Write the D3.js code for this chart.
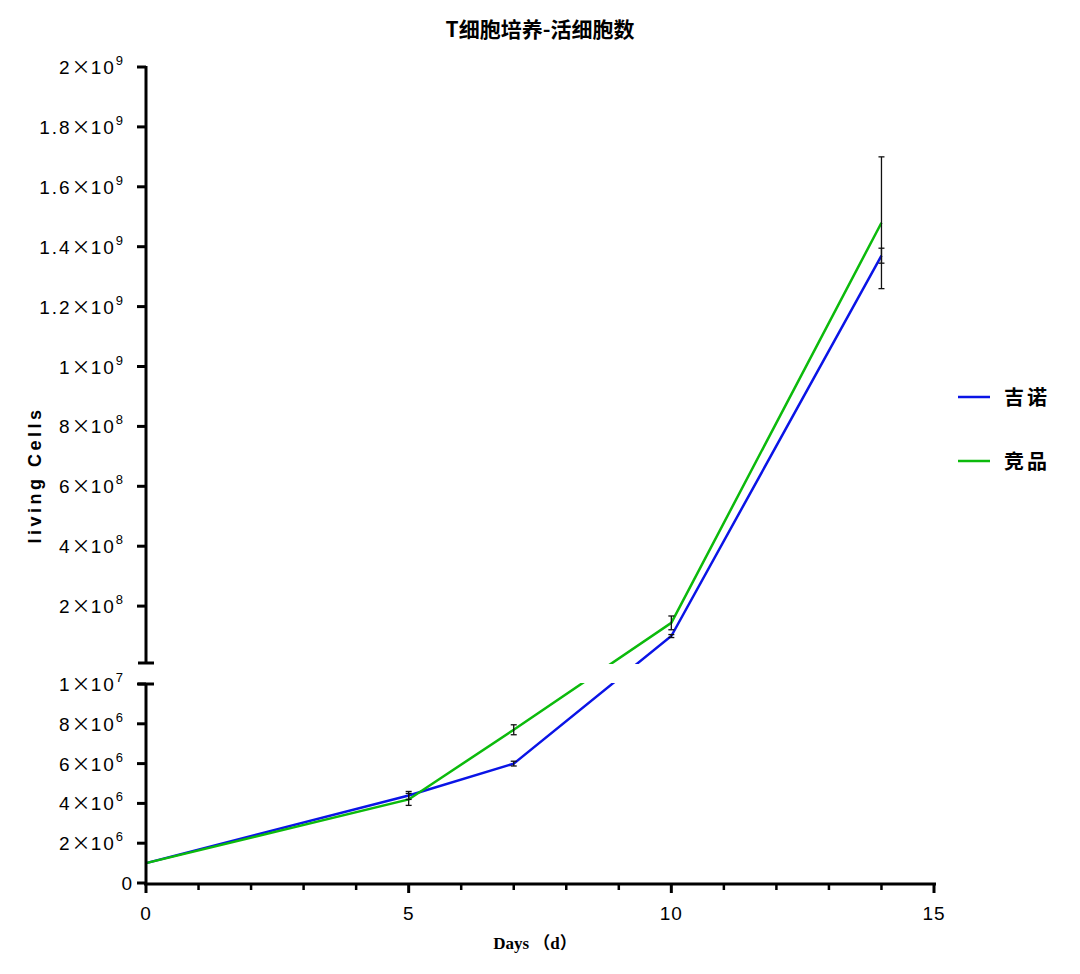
<!DOCTYPE html>
<html><head><meta charset="utf-8">
<script src="https://cdn.jsdelivr.net/npm/d3@7"></script>
<style>body{margin:0;background:#fff}</style></head>
<body><svg id="c" width="1080" height="974"></svg>
<script>
const days=[0,5,7,10,14];
const jinuo=[1e6,4.4e6,6.0e6,1.0e8,1.37e9];
const jinuoErr=[0,0.2e6,0.12e6,0.05e8,0.025e9];
const jingpin=[1e6,4.2e6,7.7e6,1.44e8,1.48e9];
const jingpinErr=[0,0.3e6,0.25e6,0.23e8,0.22e9];
const lowerTicks=[0,2e6,4e6,6e6,8e6,1e7];
const upperTicks=[2e8,4e8,6e8,8e8,1e9,1.2e9,1.4e9,1.6e9,1.8e9,2e9];
const xTicks=[0,5,10,15];
const seriesNames=["吉诺","竞品"];
const colors=["#0a14e6","#0cba0c"];

const svg=d3.select("#c");
const x=d3.scaleLinear().domain([0,15]).range([146,934]);
const yL=d3.scaleLinear().domain([0,1e7]).range([883,684]);
const yU=d3.scaleLinear().domain([0,2e9]).range([666,67]);
const yv=v=>v<=1e7?yL(v):yU(v);
const font="'Liberation Sans',Arial,sans-serif";

function sup(v){
  if(v===0) return ["0",""];
  const e=Math.floor(Math.log10(v)+1e-9);
  let m=v/Math.pow(10,e);
  m=Math.round(m*10)/10;
  return [String(m),String(e)];
}
const data=[jinuo,jingpin];
const errs=[jinuoErr,jingpinErr];
data.forEach((s,i)=>{
  svg.append("path").attr("d",d3.line().x((d,j)=>x(days[j])).y(d=>yv(d))(s))
    .attr("fill","none").attr("stroke",colors[i]).attr("stroke-width",2.5);
});
svg.append("rect").attr("x",148).attr("y",664).attr("width",800).attr("height",19).attr("fill","#fff");
data.forEach((s,i)=>{
  s.forEach((v,j)=>{
    const e=errs[i][j]; if(!e) return;
    const cx=x(days[j]), t=yv(v+e), b=yv(v-e);
    const g=svg.append("g").attr("stroke","#111").attr("stroke-width",1.3);
    g.append("line").attr("x1",cx).attr("x2",cx).attr("y1",t).attr("y2",b);
    g.append("line").attr("x1",cx-3).attr("x2",cx+3).attr("y1",t).attr("y2",t);
    g.append("line").attr("x1",cx-3).attr("x2",cx+3).attr("y1",b).attr("y2",b);
  });
});
const ax=svg.append("g").attr("stroke","#000").attr("stroke-width",3);
ax.append("line").attr("x1",146).attr("x2",146).attr("y1",885).attr("y2",684);
ax.append("line").attr("x1",146).attr("x2",146).attr("y1",663).attr("y2",66);
ax.append("line").attr("x1",138).attr("x2",154).attr("y1",684).attr("y2",684);
ax.append("line").attr("x1",138).attr("x2",154).attr("y1",663).attr("y2",663);
function ylab(y,v){
  ax.append("line").attr("x1",137).attr("x2",146).attr("y1",y).attr("y2",y);
  const [a,e]=sup(v);
  const t=svg.append("text").attr("x",e?125:134).attr("y",y+7).attr("text-anchor","end")
   .attr("font-family",font).attr("font-size",19).attr("letter-spacing",2).attr("fill","#000");
  t.append("tspan").text(a);
  if(e){
    t.append("tspan").attr("font-family","'Noto Sans CJK SC',sans-serif").attr("font-size",19).attr("letter-spacing",0).text("×");
    t.append("tspan").text("10");
    t.append("tspan").attr("dy",-9).attr("font-size",13).text(e);
  }
}
lowerTicks.forEach(v=>ylab(yL(v),v));
upperTicks.forEach(v=>ylab(yU(v),v));
ax.append("line").attr("x1",144).attr("x2",936).attr("y1",884).attr("y2",884);
d3.range(0,16).forEach(d=>{
  const major=xTicks.includes(d);
  ax.append("line").attr("x1",x(d)).attr("x2",x(d)).attr("y1",884).attr("y2",major?893:890)
    .attr("stroke-width",major?3:2.5);
});
xTicks.forEach(d=>svg.append("text").attr("x",x(d)).attr("y",920).attr("text-anchor","middle")
  .attr("font-family",font).attr("font-size",19).attr("letter-spacing",1).text(d));
svg.append("text").attr("x",540).attr("y",37).attr("text-anchor","middle").attr("font-family","'Noto Sans CJK SC',sans-serif")
  .attr("font-weight","bold").attr("font-size",21).text("T细胞培养-活细胞数");
svg.append("text").attr("transform","translate(41,475) rotate(-90)").attr("text-anchor","middle")
  .attr("font-family",font).attr("font-weight","bold").attr("font-size",18).attr("letter-spacing",3.5).text("living Cells");
svg.append("text").attr("x",535).attr("y",949).attr("text-anchor","middle")
  .attr("font-family","'Liberation Serif','Noto Sans CJK SC',serif").attr("font-weight","bold").attr("font-size",17).text("Days （d）");
seriesNames.forEach((n,i)=>{
  const y=397+i*64;
  svg.append("line").attr("x1",958).attr("x2",990).attr("y1",y).attr("y2",y).attr("stroke",colors[i]).attr("stroke-width",2.5);
  svg.append("text").attr("x",1004).attr("y",y+8).attr("font-family","'Noto Sans CJK SC',sans-serif")
   .attr("font-weight","bold").attr("font-size",20).attr("letter-spacing",3).text(n);
});
</script></body></html>
